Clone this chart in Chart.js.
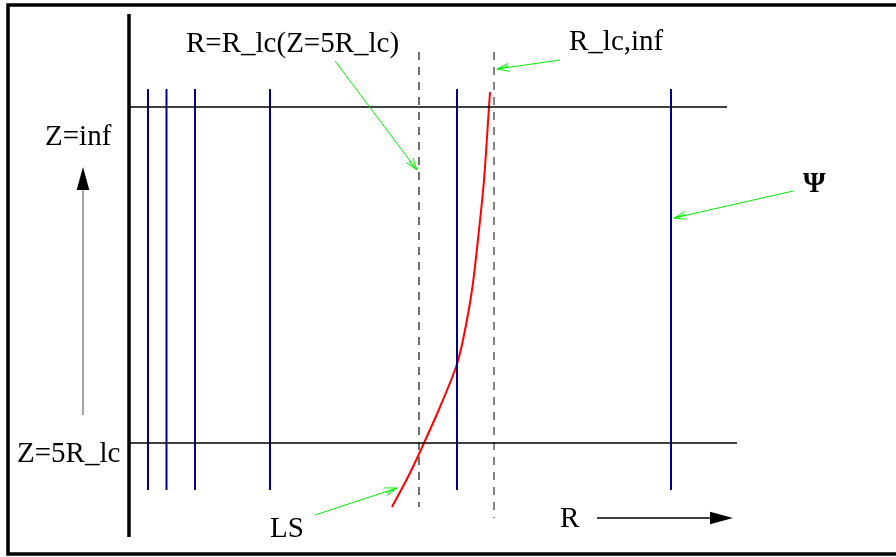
<!DOCTYPE html>
<html lang="en">
<head>
    <meta charset="UTF-8">
    <title>Light surface sketch</title>
    <script src="https://cdn.jsdelivr.net/npm/chart.js"></script>
    <style>
        html, body { margin: 0; padding: 0; background: #fff; }
        canvas { display: block; }
    </style>
</head>
<body>
    <canvas id="esquema" width="896" height="557"></canvas>
<script>
    // field lines (R position) and their vertical extent
    var fieldLineR = [148, 166.5, 195, 270, 457, 671]
    var fieldLineZ = [89, 490]

    // the two horizontal levels: Z=inf (top) and Z=5R_lc (bottom)
    var levelZ = [107, 443]
    var levelREnd = [727, 737]

    // light cylinder positions (dashed): R_lc(Z=5R_lc) and R_lc,inf
    var cylinderR = [419, 494]
    var cylinderZTop = [52, 52]
    var cylinderZBottom = [507, 518]

    // light surface curve
    var lsR = [392, 410, 424, 440, 456, 463, 472, 479, 484, 489, 490]
    var lsZ = [507, 473, 443, 407, 367, 340, 290, 230, 180, 107, 92]

    // axis and frame
    var axisR = 129
    var axisZ = [14, 537]
    var frameBox = [8, 5, 920, 554]

    // labels: text, R, Z(baseline), bold
    var textos = [
        ['Z=inf', 45, 145, false],
        ['Z=5R_lc', 17, 462, false],
        ['R=R_lc(Z=5R_lc)', 186, 52, false],
        ['R_lc,inf', 569, 50, false],
        ['\u03A8', 803, 192, true],
        ['LS', 270, 537, false],
        ['R', 560, 527, false]
    ]

    // pointer arrows (from -> to)
    var setasVerdes = [
        [335, 61, 417, 170],
        [560, 60, 497, 69],
        [793, 191, 674, 218],
        [315, 515, 397, 488]
    ]
    var setaZ = [83, 415, 83, 167]
    var setaR = [597, 518, 733, 518]

    function linha(pontos, cor, largura, tracejado) {
        return {
            type: 'line',
            data: pontos,
            borderColor: cor,
            borderWidth: largura,
            borderDash: tracejado || [],
            pointRadius: 0,
            fill: false,
            tension: 0,
            borderCapStyle: 'butt'
        }
    }

    var datasets = []

    // frame
    datasets.push(linha([
        {x: frameBox[2], y: frameBox[1]}, {x: frameBox[0], y: frameBox[1]},
        {x: frameBox[0], y: frameBox[3]}, {x: frameBox[2], y: frameBox[3]}
    ], '#000', 3.5))

    // thick axis
    datasets.push(linha([{x: axisR, y: axisZ[0]}, {x: axisR, y: axisZ[1]}], '#000', 3.5))

    // horizontal levels
    levelZ.forEach(function (z, i) {
        datasets.push(linha([{x: axisR, y: z}, {x: levelREnd[i], y: z}], '#000', 1.5))
    })

    // field lines
    fieldLineR.forEach(function (r) {
        datasets.push(linha([{x: r, y: fieldLineZ[0]}, {x: r, y: fieldLineZ[1]}], '#00008f', 2))
    })

    // light cylinder
    datasets.push(linha([{x: cylinderR[0], y: cylinderZTop[0]}, {x: cylinderR[0], y: cylinderZBottom[0]}], '#333', 1.4, [8, 7]))
    datasets.push(linha([{x: cylinderR[1], y: cylinderZTop[1]}, {x: cylinderR[1], y: cylinderZBottom[1]}], '#777', 1.8, [8, 7]))

    // light surface
    var curva = linha(lsR.map(function (r, i) { return {x: r, y: lsZ[i]} }), '#ff0000', 2)
    curva.tension = 0.3
    datasets.push(curva)

    function ponta(ctx, x1, y1, x2, y2, comp, meia, cheia) {
        var ang = Math.atan2(y2 - y1, x2 - x1)
        var bx = x2 - comp * Math.cos(ang)
        var by = y2 - comp * Math.sin(ang)
        var px = -Math.sin(ang) * meia
        var py = Math.cos(ang) * meia
        ctx.beginPath()
        if (cheia) {
            ctx.moveTo(x2, y2)
            ctx.lineTo(bx + px, by + py)
            ctx.lineTo(bx - px, by - py)
            ctx.closePath()
            ctx.fill()
        } else {
            ctx.moveTo(bx + px, by + py)
            ctx.lineTo(x2, y2)
            ctx.lineTo(bx - px, by - py)
            ctx.moveTo(bx + px * 0.3, by + py * 0.3)
            ctx.lineTo(x2, y2)
            ctx.stroke()
        }
    }

    var anotacoes = {
        id: 'anotacoes',
        afterDatasetsDraw: function (chart) {
            var ctx = chart.ctx
            var sx = chart.scales.x
            var sy = chart.scales.y
            var X = function (v) { return sx.getPixelForValue(v) }
            var Y = function (v) { return sy.getPixelForValue(v) }
            ctx.save()

            // green pointers
            ctx.strokeStyle = '#00ee00'
            ctx.lineWidth = 1
            setasVerdes.forEach(function (s) {
                ctx.beginPath()
                ctx.moveTo(X(s[0]), Y(s[1]))
                ctx.lineTo(X(s[2]), Y(s[3]))
                ctx.stroke()
                ponta(ctx, X(s[0]), Y(s[1]), X(s[2]), Y(s[3]), 12, 4, false)
            })

            // Z arrow
            ctx.strokeStyle = '#808080'
            ctx.lineWidth = 1.4
            ctx.beginPath()
            ctx.moveTo(X(setaZ[0]), Y(setaZ[1]))
            ctx.lineTo(X(setaZ[2]), Y(setaZ[3]) + 20)
            ctx.stroke()
            ctx.fillStyle = '#000'
            ponta(ctx, X(setaZ[0]), Y(setaZ[1]), X(setaZ[2]), Y(setaZ[3]), 23, 6.3, true)

            // R arrow
            ctx.strokeStyle = '#000'
            ctx.lineWidth = 1.5
            ctx.beginPath()
            ctx.moveTo(X(setaR[0]), Y(setaR[1]))
            ctx.lineTo(X(setaR[2]) - 20, Y(setaR[3]))
            ctx.stroke()
            ponta(ctx, X(setaR[0]), Y(setaR[1]), X(setaR[2]), Y(setaR[3]), 23, 6.3, true)

            // labels
            ctx.fillStyle = '#000'
            ctx.textBaseline = 'alphabetic'
            ctx.textAlign = 'left'
            textos.forEach(function (t) {
                ctx.font = (t[3] ? 'bold ' : '') + '29px "Liberation Serif", "DejaVu Serif", serif'
                ctx.fillText(t[0], X(t[1]), Y(t[2]))
            })
            ctx.restore()
        }
    }

    var ctx = document.getElementById('esquema')

    var esquema = new Chart(ctx, {
        type: 'scatter',
        data: { datasets: datasets },
        options: {
            responsive: false,
            animation: false,
            devicePixelRatio: 1,
            layout: { padding: 0 },
            plugins: {
                legend: { display: false },
                tooltip: { enabled: false }
            },
            scales: {
                x: { type: 'linear', min: 0, max: 896, display: false },
                y: { type: 'linear', min: 0, max: 557, reverse: true, display: false }
            }
        },
        plugins: [anotacoes]
    })
</script>
</body>
</html>
